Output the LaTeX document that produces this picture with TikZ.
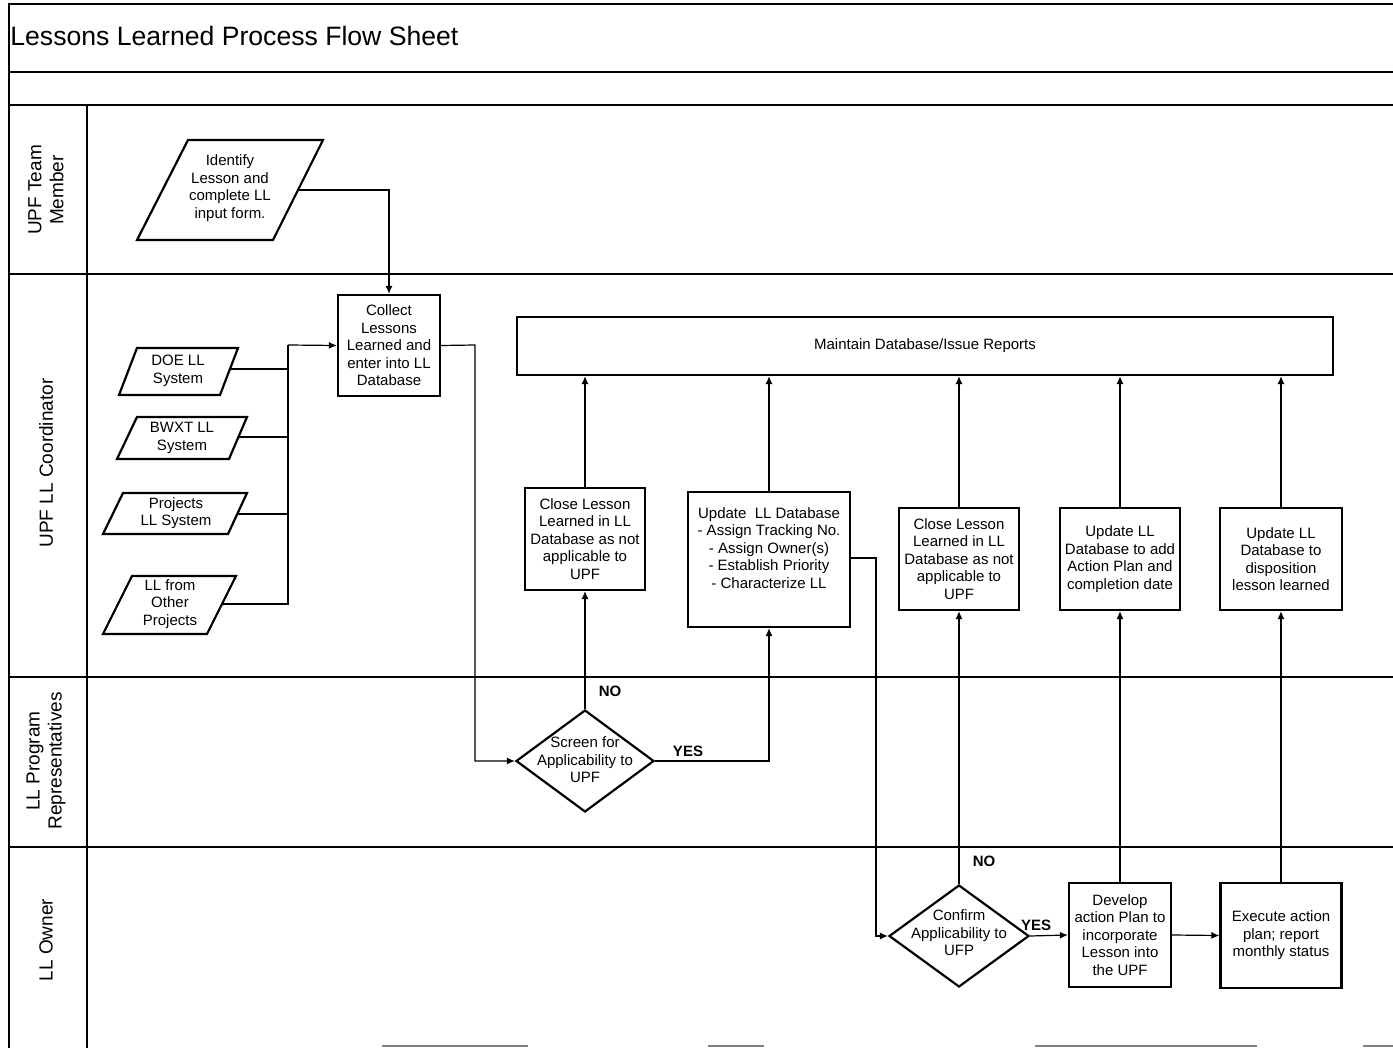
\documentclass[tikz,border=0pt]{standalone}
\usepackage{fontspec}
\setmainfont{Liberation Sans}
\usetikzlibrary{shapes.geometric,arrows.meta}
\begin{document}
\begin{tikzpicture}[x=0.5pt,y=-0.5pt,
  box/.style={draw,line width=1.1pt,inner sep=0pt},
  txt/.style={font=\fontsize{7.5}{8.75}\selectfont,align=center,inner sep=0pt},
  dec/.style={draw,diamond,line width=1.1pt,inner sep=0pt},
  arr/.style={-{Latex[length=4pt,width=3.5pt]},line width=0.6pt},
  conn/.style={line width=0.6pt},
  lane/.style={line width=1.4pt},
  lbl/.style={font=\fontsize{9.5}{11}\selectfont,align=center,rotate=90,inner sep=0pt},
  yn/.style={font=\bfseries\fontsize{7.5}{9}\selectfont,inner sep=0pt},
  para/.style={draw,line width=1.1pt}]
\useasboundingbox (0,0) rectangle (1393,1048);

% frame and lanes
\draw[lane] (8,4) -- (1393,4);
\draw[lane] (8,72) -- (1393,72);
\draw[lane] (8,105) -- (1393,105);
\draw[lane] (8,274) -- (1393,274);
\draw[lane] (8,677) -- (1393,677);
\draw[lane] (8,847) -- (1393,847);
\draw[lane] (9,4) -- (9,1048);
\draw[lane] (87,105) -- (87,1048);
\draw[gray,line width=1pt] (382,1046) -- (528,1046) (708,1046) -- (764,1046) (1035,1046) -- (1257,1046) (1363,1046) -- (1393,1046);

\node[anchor=base west,inner sep=0pt,font=\fontsize{13.3}{15}\selectfont] (title) at (10,46) {Lessons Learned Process Flow Sheet};

% lane labels
\node[lbl] (l1) at (46,190) {UPF Team\\Member};
\node[lbl] (l2) at (46,463) {UPF LL Coordinator};
\node[lbl] (l3) at (46,761) {LL Program\\Representatives};
\node[lbl] (l4) at (46,940) {LL Owner};

% parallelograms
\draw[para] (188,140) -- (323,140) -- (273,240) -- (137,240) -- cycle;
\node[txt] (identify) at (230,188) {Identify\\Lesson and\\complete LL\\input form.};
\coordinate (identify-r) at (298,190);

\draw[para] (137,348) -- (238,348) -- (220,395) -- (119,395) -- cycle;
\node[txt] (doe) at (178,371) {DOE LL\\System};
\coordinate (doe-r) at (230,369);

\draw[para] (137,417) -- (247,417) -- (229,459) -- (117,459) -- cycle;
\node[txt] (bwxt) at (182,438) {BWXT LL\\System};
\coordinate (bwxt-r) at (238,437);

\draw[para] (123,493) -- (247,493) -- (228,534) -- (103,534) -- cycle;
\node[txt] (projects) at (176,513) {Projects\\LL System};
\coordinate (projects-r) at (237,514);

\draw[para] (132,576) -- (236,576) -- (207,634) -- (103,634) -- cycle;
\node[txt] (other) at (170,604) {LL from\\Other\\Projects};
\coordinate (other-r) at (222,604);

% boxes
\node[box,txt,minimum width=51pt,minimum height=50.5pt] (collect) at (389,345.5) {Collect\\Lessons\\Learned and\\enter into LL\\Database};
\node[box,txt,minimum width=408pt,minimum height=29pt] (maintain) at (925,346) {Maintain Database/Issue Reports};
\node[box,txt,minimum width=60pt,minimum height=51pt] (close1) at (585,539) {Close Lesson\\Learned in LL\\Database as not\\applicable to\\UPF};
\node[box,minimum width=81pt,minimum height=67.5pt] (update1) at (769,559.5) {};
\node[txt] (update1t) at (769,548) {Update\ \ LL Database\\- Assign Tracking No.\\- Assign Owner(s)\\- Establish Priority\\- Characterize LL};
\node[box,txt,minimum width=60pt,minimum height=51pt] (close2) at (959,559) {Close Lesson\\Learned in LL\\Database as not\\applicable to\\UPF};
\node[box,txt,minimum width=60pt,minimum height=51pt] (update2) at (1120,559) {Update LL\\Database to add\\Action Plan and\\completion date};
\node[box,txt,minimum width=61pt,minimum height=51pt] (update3) at (1281,559) {Update LL\\Database to\\disposition\\lesson learned};
\node[box,txt,minimum width=51pt,minimum height=52pt] (develop) at (1120,935) {Develop\\action Plan to\\incorporate\\Lesson into\\the UPF};
\node[box,txt,minimum width=60.5pt,minimum height=52.5pt] (execute) at (1281,935.5) {Execute action\\plan; report\\monthly status};

% decisions
\node[dec,minimum width=69pt,minimum height=51pt] (screen) at (585,761) {};
\node[txt] (screent) at (585,760) {Screen for\\Applicability to\\UPF};
\node[dec,minimum width=70pt,minimum height=51pt] (confirm) at (959,936) {};
\node[txt] (confirmt) at (959,933) {Confirm\\Applicability to\\UFP};

% connectors
\draw[arr] (identify-r) -| (collect.north);
\coordinate (bus) at (288,345);
\draw[conn] (doe-r) -| (bus);
\draw[conn] (bwxt-r) -| (bus);
\draw[conn] (projects-r) -| (bus);
\draw[conn] (other-r) -| (bus);
\draw[arr] (bus) -- (collect.west);
\coordinate (c1) at (475,345);
\draw[arr] (collect.east) -- (c1) |- (screen.west);
\draw[arr] (screen.north) -- (close1.south);
\draw[arr] (screen.east) -| (update1.south);
\draw[arr] (close1.north) -- (close1.north |- maintain.south);
\draw[arr] (update1.north) -- (update1.north |- maintain.south);
\coordinate (c2) at (876,558);
\draw[arr] (update1.east |- c2) -- (c2) |- (confirm.west);
\draw[arr] (confirm.north) -- (close2.south);
\draw[arr] (confirm.east) -- (develop.west);
\draw[arr] (develop.north) -- (update2.south);
\draw[arr] (develop.east) -- (execute.west);
\draw[arr] (execute.north) -- (update3.south);
\draw[arr] (close2.north) -- (close2.north |- maintain.south);
\draw[arr] (update2.north) -- (update2.north |- maintain.south);
\draw[arr] (update3.north) -- (update3.north |- maintain.south);

% labels
\node[yn] (no1) at (610,691) {NO};
\node[yn] (yes1) at (688,751) {YES};
\node[yn] (no2) at (984,861) {NO};
\node[yn] (yes2) at (1036,925) {YES};
\end{tikzpicture}
\end{document}
